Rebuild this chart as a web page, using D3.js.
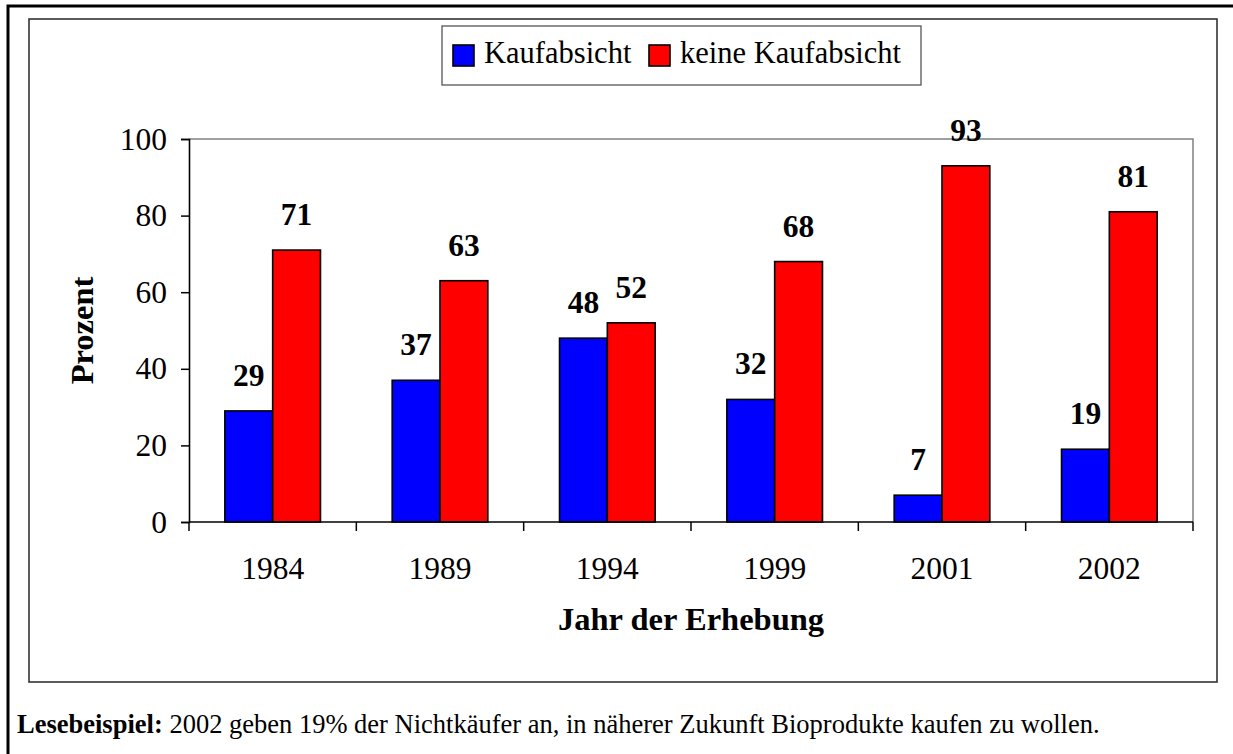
<!DOCTYPE html>
<html>
<head>
<meta charset="utf-8">
<script src="https://cdn.jsdelivr.net/npm/d3@7"></script>
<style>
  body { margin: 0; background: #fff; }
  svg, text, tspan { font-family: "Liberation Serif", "Times New Roman", Times, serif; fill: #000; }
</style>
</head>
<body>
<svg id="chart" width="1233" height="754"></svg>
<script>
const years = ["1984", "1989", "1994", "1999", "2001", "2002"];
const seriesNames = ["Kaufabsicht", "keine Kaufabsicht"];
const kaufabsicht = [29, 37, 48, 32, 7, 19];
const keineKaufabsicht = [71, 63, 52, 68, 93, 81];
const yTicks = [0, 20, 40, 60, 80, 100];
const colors = ["#0000ff", "#ff0000"];

const serif = "'Liberation Serif', 'Times New Roman', serif";
const svg = d3.select("#chart");

// outer page frame + chart frame
svg.append("rect").attr("x", 8).attr("y", 6).attr("width", 1400).attr("height", 900)
    .attr("fill", "none").attr("stroke", "#000").attr("stroke-width", 3);
svg.append("rect").attr("x", 29).attr("y", 19).attr("width", 1188).attr("height", 663)
    .attr("fill", "none").attr("stroke", "#333").attr("stroke-width", 1.6);

const plot = {left: 189, right: 1193, top: 139, bottom: 522};

let x = d3.scaleBand().domain(years).range([plot.left, plot.right]);
let y = d3.scaleLinear().domain([0, 100]).range([plot.bottom, plot.top]);

// gap width 150% like excel
let barW = x.bandwidth() / 3.5;
let x1 = d3.scaleBand().domain(seriesNames)
    .range([0.75 * barW, 2.75 * barW]);

// plot area border (grey top/right)
svg.append("path")
    .attr("d", `M${plot.left},${plot.top}H${plot.right}V${plot.bottom}`)
    .attr("fill", "none").attr("stroke", "#808080").attr("stroke-width", 1.5);

let rows = years.map((yr, i) => ({year: yr, values: [kaufabsicht[i], keineKaufabsicht[i]]}));

let groups = svg.selectAll(".yr").data(rows).enter().append("g")
    .attr("transform", d => `translate(${x(d.year)},0)`);

groups.selectAll("rect").data(d => d.values.map((v, j) => ({name: seriesNames[j], v: v, j: j})))
    .enter().append("rect")
    .attr("x", d => x1(d.name))
    .attr("width", x1.bandwidth())
    .attr("y", d => y(d.v))
    .attr("height", d => y(0) - y(d.v))
    .attr("fill", d => colors[d.j])
    .attr("stroke", "#000").attr("stroke-width", 1.6);

groups.selectAll(".lbl").data(d => d.values.map((v, j) => ({name: seriesNames[j], v: v})))
    .enter().append("text")
    .attr("x", d => x1(d.name) + x1.bandwidth() / 2)
    .attr("y", d => y(d.v) - 25)
    .attr("text-anchor", "middle")
    .style("font-family", serif)
    .style("font-size", "31.5px").style("font-weight", "bold")
    .text(d => d.v);

// y axis
let yAxis = svg.append("g").attr("transform", `translate(${plot.left},0)`)
    .call(d3.axisLeft(y).tickValues(yTicks).tickSize(8).tickPadding(14));
yAxis.attr("font-family", null);
yAxis.select(".domain").attr("stroke", "#000").attr("stroke-width", 1.6);
yAxis.selectAll("line").attr("stroke", "#000").attr("stroke-width", 1.5);
yAxis.selectAll("text").style("font-family", serif).style("font-size", "31.5px");

// x axis: ticks at category boundaries
let xAxis = svg.append("g").attr("transform", `translate(0,${plot.bottom})`);
xAxis.append("line").attr("x1", plot.left).attr("x2", plot.right)
    .attr("stroke", "#000").attr("stroke-width", 1.6);
let bounds = years.map(d => x(d)).concat([x(years[years.length - 1]) + x.bandwidth()]);
xAxis.selectAll(".tk").data(bounds).enter().append("line")
    .attr("x1", d => d).attr("x2", d => d).attr("y1", 0).attr("y2", 9)
    .attr("stroke", "#000").attr("stroke-width", 1.5);
xAxis.selectAll(".xl").data(years).enter().append("text")
    .attr("x", d => x(d) + x.bandwidth() / 2)
    .attr("y", 57)
    .attr("text-anchor", "middle")
    .style("font-family", serif)
    .style("font-size", "31.5px")
    .text(d => d);

// axis titles
svg.append("text")
    .attr("x", (plot.left + plot.right) / 2).attr("y", 630)
    .attr("text-anchor", "middle")
    .style("font-family", serif)
    .style("font-size", "32.5px").style("font-weight", "bold")
    .text("Jahr der Erhebung");
svg.append("text")
    .attr("transform", `translate(93,${(plot.top + plot.bottom) / 2}) rotate(-90)`)
    .attr("text-anchor", "middle")
    .style("font-family", serif)
    .style("font-size", "32.5px").style("font-weight", "bold")
    .text("Prozent");

// legend
let legend = svg.append("g");
legend.append("rect").attr("x", 442).attr("y", 26).attr("width", 479).attr("height", 59)
    .attr("fill", "none").attr("stroke", "#555").attr("stroke-width", 1.3);
let legX = [453, 649];
seriesNames.forEach((name, j) => {
    legend.append("rect").attr("x", legX[j]).attr("y", 45).attr("width", 21).attr("height", 21)
        .attr("fill", colors[j]).attr("stroke", "#000").attr("stroke-width", 1.6);
    legend.append("text").attr("x", legX[j] + 31).attr("y", 63)
        .style("font-family", serif)
        .style("font-size", "30.5px").text(name);
});

// reading example
let note = svg.append("text").attr("x", 17).attr("y", 733)
    .style("font-family", serif).style("font-size", "26.5px");
note.append("tspan").style("font-weight", "bold").text("Lesebeispiel:");
note.append("tspan").text(" 2002 geben 19% der Nichtkäufer an, in näherer Zukunft Bioprodukte kaufen zu wollen.");
</script>
</body>
</html>
